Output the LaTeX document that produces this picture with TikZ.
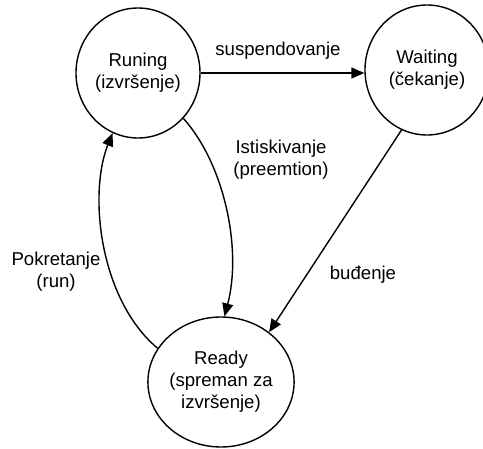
\documentclass[tikz,border=0pt]{standalone}
\usepackage{fontspec}
\setmainfont{Liberation Sans}
\usetikzlibrary{arrows.meta,shapes.geometric}

\begin{document}
\begin{tikzpicture}[x=1pt,y=-1pt,
  every node/.style={font=\fontsize{18.6}{22}\selectfont},
  state/.style={ellipse,draw,line width=1.4pt,minimum width=124pt,minimum height=130pt,
                inner sep=0pt,align=center},
  lbl/.style={align=center,inner sep=0pt},
  flow/.style={line width=1.4pt,-{Triangle[length=13pt,width=11pt]}}]
  \useasboundingbox (0,0) rectangle (483,449);

  % process states
  \node[state] (run)   at (138,73)  {Runing\\(izvršenje)};
  \node[state] (wait)  at (427,70)  {Waiting\\(čekanje)};
  \node[state] (ready) at (221,382) {Ready\\(spreman za\\izvršenje)};

  % transitions
  \draw[flow] (run.east) -- (run.east -| wait.west);
  \draw[flow] (run.-45) .. controls (225,165) and (242,250) .. (ready.87);
  \draw[flow] (ready.152) .. controls (100,300) and (88,195) .. (run.-113);
  \draw[flow] (wait.-113) -- (ready.46);

  % transition labels
  \node[lbl] (lsusp) at (278,51)  {suspendovanje};
  \node[lbl] (lpre)  at (281,160) {Istiskivanje\\(preemtion)};
  \node[lbl] (lrun)  at (56,272)  {Pokretanje\\(run)};
  \node[lbl] (lwake) at (363,275) {buđenje};
\end{tikzpicture}
\end{document}
